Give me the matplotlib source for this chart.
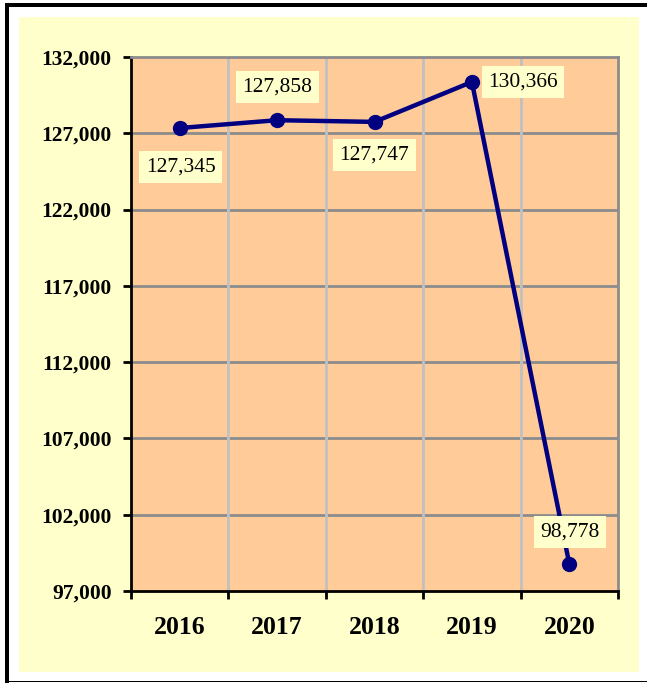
import matplotlib
matplotlib.use("Agg")
import matplotlib.pyplot as plt
from matplotlib.patches import Rectangle
from matplotlib.ticker import FuncFormatter, FixedLocator

years = ["2016", "2017", "2018", "2019", "2020"]
values = [127345, 127858, 127747, 130366, 98778]
label_offsets = [(1, -39), (0, 33), (0, -33), (51, 0), (1, 32)]
yticks = [97000, 102000, 107000, 112000, 117000, 122000, 127000, 132000]

W, H = 647, 683
fig = plt.figure(figsize=(W / 100, H / 100), dpi=100)
fig.patch.set_facecolor("white")

# outer yellow panel
fig.patches.append(Rectangle((19 / W, 1 - 672 / H), (639 - 19) / W, (672 - 17) / H,
                             transform=fig.transFigure, facecolor="#FFFFCC",
                             edgecolor="none", zorder=-10))
# black frame lines
fig.patches.append(Rectangle((5 / W, 1 - 7 / H), (W - 5) / W, 4 / H,
                             transform=fig.transFigure, facecolor="black",
                             edgecolor="none", zorder=-9))
fig.patches.append(Rectangle((5 / W, 0), 4 / W, 1 - 3 / H,
                             transform=fig.transFigure, facecolor="black",
                             edgecolor="none", zorder=-9))
fig.patches.append(Rectangle((9 / W, 1 / H), (W - 9) / W, 1.2 / H,
                             transform=fig.transFigure, facecolor="black",
                             edgecolor="none", zorder=-9))

L, R, T, B = 131, 618, 57, 591
ax = fig.add_axes([L / W, 1 - B / H, (R - L) / W, (B - T) / H])
ax.set_facecolor("#FFCC99")

x = list(range(len(years)))
ax.plot(x, values, color="#000080", linewidth=3.2, marker="o", markersize=10,
        zorder=5, clip_on=False)

ax.set_xlim(-0.5, len(years) - 0.5)
ax.set_ylim(97000, 132000)

# y axis
ax.set_yticks(yticks)
ax.yaxis.set_major_formatter(FuncFormatter(lambda v, p: f"{int(v):,}"))
ax.tick_params(axis="y", direction="out", length=6, width=2, color="black", pad=8)
for lab in ax.get_yticklabels():
    lab.set_fontfamily("Liberation Serif")
    lab.set_fontweight("bold")
    lab.set_fontsize(15.5)

# x axis: labels at centers, ticks at boundaries
ax.set_xticks(x)
ax.set_xticklabels(years, fontfamily="Liberation Serif", fontweight="bold", fontsize=18.5)
ax.tick_params(axis="x", which="major", length=0, pad=18)
bounds = [i - 0.5 for i in range(len(years) + 1)]
ax.xaxis.set_minor_locator(FixedLocator(bounds))
ax.tick_params(axis="x", which="minor", direction="out", length=6, width=2, color="black")

# grid
for yv in yticks[1:-1]:
    ax.axhline(yv, color="#8C8C8C", linewidth=2, zorder=1)
for bx in bounds[1:-1]:
    ax.axvline(bx, color="#C0C0C0", linewidth=2, zorder=1)

for side in ["left", "bottom"]:
    ax.spines[side].set_color("black")
    ax.spines[side].set_linewidth(2)
for side in ["top", "right"]:
    ax.spines[side].set_color("#8C8C8C")
    ax.spines[side].set_linewidth(2)

for xi, v, off in zip(x, values, label_offsets):
    ax.annotate(f"{v:,}", (xi, v), xytext=off, textcoords="offset pixels",
                ha="center", va="center", fontfamily="Liberation Serif",
                fontsize=15.5, color="black", zorder=6,
                bbox=dict(boxstyle="square,pad=0.3", facecolor="#FFFFCC",
                          edgecolor="none"))

fig.savefig("out.png", dpi=100, facecolor=fig.get_facecolor())
